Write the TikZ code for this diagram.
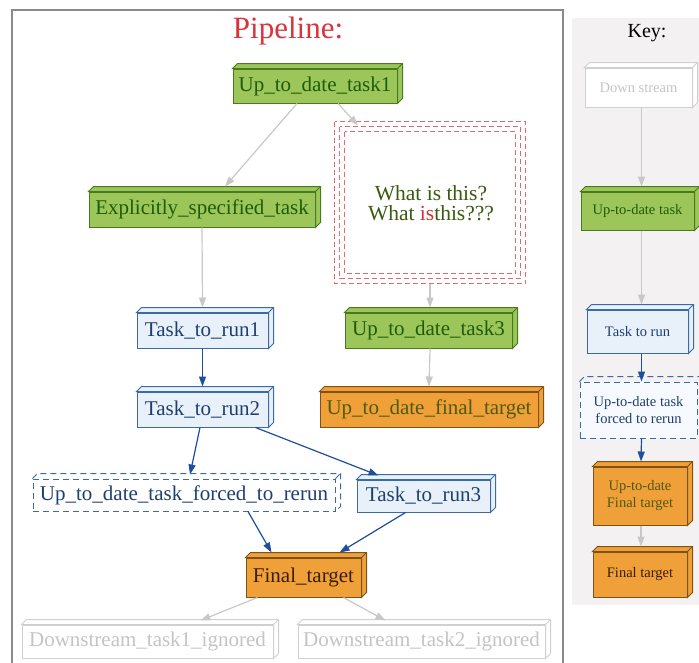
\documentclass[tikz,border=0pt]{standalone}
\usepackage{fontspec}
\setmainfont{Liberation Serif}
\usetikzlibrary{arrows.meta}
\definecolor{gfill}{HTML}{9CC659}
\definecolor{gdraw}{HTML}{4A7A1E}
\definecolor{gtext}{HTML}{1E5C0A}
\definecolor{bfill}{HTML}{E8F1FA}
\definecolor{bdraw}{HTML}{3B6AA6}
\definecolor{btext}{HTML}{1F3F70}
\definecolor{ofill}{HTML}{EFA038}
\definecolor{odraw}{HTML}{7F5218}
\definecolor{otext}{HTML}{4F5A10}
\definecolor{ftext}{HTML}{3A1E05}
\definecolor{lgray}{HTML}{D0D0D0}
\definecolor{lgtext}{HTML}{C4C4C4}
\definecolor{egray}{HTML}{C8C8C8}
\definecolor{eblue}{HTML}{1E4F9C}
\definecolor{keybg}{HTML}{F3F1F1}
\definecolor{framec}{HTML}{8A8A8A}
\definecolor{titlered}{HTML}{D8343C}
\definecolor{whatred}{HTML}{E06A70}
\definecolor{whattext}{HTML}{3A5A10}
\definecolor{isred}{HTML}{D03030}
% side and top faces of a 3D box, drawn up and to the right of the front face
\newcommand\tdfaces[2]{%
  \filldraw[#2] (#1.north west) -- ++(5,-5) -- ([shift={(5pt,5pt)}]#1.north east)
    -- ([shift={(5pt,5pt)}]#1.south east) -- (#1.south east) -- (#1.north east) -- cycle;
  \draw[#2] (#1.north east) -- ++(5,-5);
}
\tikzset{
  box/.style={rectangle, inner sep=0pt, line width=1pt, align=center,
    font=\fontsize{21}{24}\selectfont},
  keybox/.style={box, font=\fontsize{14.5}{17}\selectfont},
  gbox/.style={fill=gfill, draw=gdraw, text=gtext},
  bbox/.style={fill=bfill, draw=bdraw, text=btext},
  obox/.style={fill=ofill, draw=odraw, text=otext},
  fbox/.style={fill=ofill, draw=odraw, text=ftext},
  dbox/.style={fill=white, draw=lgray, text=lgtext},
  rbox/.style={draw=bdraw, text=btext, dashed, dash pattern=on 6pt off 4pt},
  gface/.style={fill=gfill, draw=gdraw, line width=1pt},
  bface/.style={fill=bfill, draw=bdraw, line width=1pt},
  oface/.style={fill=ofill, draw=odraw, line width=1pt},
  dface/.style={fill=white, draw=lgray, line width=1pt},
  rface/.style={draw=bdraw, line width=1pt, dash pattern=on 6pt off 4pt},
  gedge/.style={draw=egray, line width=1.2pt, -{Triangle[length=10pt,width=7pt]}},
  bedge/.style={draw=eblue, line width=1.2pt, -{Triangle[length=10pt,width=7pt]}},
  whatline/.style={draw=whatred, line width=1.1pt, dash pattern=on 5pt off 3pt},
}
\begin{document}
\begin{tikzpicture}[x=1pt, y=-1pt]
\useasboundingbox (0,0) rectangle (699,662);
\clip (0,0) rectangle (699,662);
\fill[white] (0,0) rectangle (699,662);

% outer frame of the pipeline and the key panel
\draw[framec, line width=2pt] (12,680) -- (12,10) -- (563,10) -- (563,680);
\fill[keybg] (572,18) rectangle (710,605);

% titles
\node[text=titlered, font=\fontsize{31}{34}\selectfont] (title) at (288,31) {Pipeline:};
\node[font=\fontsize{20}{23}\selectfont] (keytitle) at (647,33) {Key:};

% pipeline tasks
\node[box, gbox, minimum width=164pt, minimum height=34pt] (u1) at (315,86) {Up\_to\_date\_task1};
\node[box, gbox, minimum width=226pt, minimum height=35pt] (exp) at (202,209.5) {Explicitly\_specified\_task};
\node[box, minimum width=190pt, minimum height=161pt] (what) at (430,202.5) {};
\node[text=whattext, font=\fontsize{21.5}{20}\selectfont, align=center] (whattxt) at (431,203)
  {What is this?\\What {\color{isred}is}this???};
\node[box, bbox, minimum width=131pt, minimum height=35pt] (tr1) at (202.5,330.5) {Task\_to\_run1};
\node[box, bbox, minimum width=131pt, minimum height=35pt] (tr2) at (202.5,409.5) {Task\_to\_run2};
\node[box, gbox, minimum width=167pt, minimum height=35pt] (u3) at (428.5,330.5) {Up\_to\_date\_task3};
\node[box, obox, minimum width=218pt, minimum height=35pt] (uft) at (429,409.5) {Up\_to\_date\_final\_target};
\node[box, rbox, minimum width=302pt, minimum height=32pt] (forced) at (184,495) {Up\_to\_date\_task\_forced\_to\_rerun};
\node[box, bbox, minimum width=133pt, minimum height=32pt] (tr3) at (423.5,496) {Task\_to\_run3};
\node[box, fbox, minimum width=115pt, minimum height=39pt] (ft) at (303.5,577.5) {Final\_target};
\node[box, dbox, minimum width=251pt, minimum height=33pt] (ds1) at (147.5,641.5) {Downstream\_task1\_ignored};
\node[box, dbox, minimum width=247pt, minimum height=33pt] (ds2) at (421.5,641.5) {Downstream\_task2\_ignored};

% 3D faces
\tdfaces{u1}{gface}
\tdfaces{exp}{gface}
\tdfaces{tr1}{bface}
\tdfaces{tr2}{bface}
\tdfaces{u3}{gface}
\tdfaces{uft}{oface}
\tdfaces{tr3}{bface}
\tdfaces{ft}{oface}
\tdfaces{ds1}{dface}
\tdfaces{ds2}{dface}
\draw[rface] (forced.north west) -- ++(5,-5) -- ([shift={(5pt,5pt)}]forced.north east)
  -- ([shift={(5pt,5pt)}]forced.south east) -- (forced.south east);
\draw[rface] (forced.north east) -- ++(5,-5);

% triple dashed border of the note
\foreach \d in {0,5,10}
  \draw[whatline] ([shift={(\d pt,-\d pt)}]what.north west) rectangle ([shift={(-\d pt,\d pt)}]what.south east);

% pipeline connectors
\draw[gedge] ([xshift=-18pt]u1.south) -- ([xshift=23pt,yshift=5pt]exp.north);
\draw[gedge] ([xshift=23pt]u1.south) -- ([xshift=-72pt,yshift=-4pt]what.north);
\draw[gedge] (exp.south) -- ([yshift=5pt]tr1.north);
\draw[gedge] (what.south) -- ([xshift=1.5pt,yshift=5pt]u3.north);
\draw[gedge] ([xshift=1.5pt]u3.south) -- ([yshift=5pt]uft.north);
\draw[bedge] (tr1.south) -- ([yshift=5pt]tr2.north);
\draw[bedge] ([xshift=-2.5pt]tr2.south) -- ([xshift=6pt,yshift=4pt]forced.north);
\draw[bedge] ([xshift=53pt]tr2.south) -- ([xshift=-45pt,yshift=4pt]tr3.north);
\draw[bedge] ([xshift=64pt]forced.south) -- ([xshift=-32pt,yshift=5pt]ft.north);
\draw[bedge] ([xshift=-18pt]tr3.south) -- ([xshift=36pt,yshift=5pt]ft.north);
\draw[gedge] ([xshift=-46pt]ft.south) -- ([xshift=53pt,yshift=4pt]ds1.north);
\draw[gedge] ([xshift=40pt]ft.south) -- ([xshift=-36pt,yshift=4pt]ds2.north);

% key
\node[keybox, dbox, minimum width=107pt, minimum height=39pt] (kds) at (638.5,87.5) {Down stream};
\node[keybox, gbox, minimum width=113pt, minimum height=38pt] (kup) at (637.5,211) {Up-to-date task};
\node[keybox, bbox, minimum width=101pt, minimum height=43pt] (ktr) at (637.5,331.5) {Task to run};
\node[keybox, rbox, fill=bfill!40, minimum width=117pt, minimum height=56pt] (kforced) at (638.5,410) {Up-to-date task\\forced to rerun};
\node[keybox, obox, minimum width=94pt, minimum height=58pt] (kuft) at (640,496) {Up-to-date\\Final target};
\node[keybox, fbox, minimum width=94pt, minimum height=45pt] (kft) at (640,574.5) {Final target};
\tdfaces{kds}{dface}
\tdfaces{kup}{gface}
\tdfaces{ktr}{bface}
\tdfaces{kuft}{oface}
\tdfaces{kft}{oface}
\draw[rface] (kforced.north west) -- ++(5,-5) -- ([shift={(5pt,5pt)}]kforced.north east)
  -- ([shift={(5pt,5pt)}]kforced.south east) -- (kforced.south east);

\draw[gedge] ([xshift=3pt]kds.south) -- ([xshift=4pt,yshift=5pt]kup.north);
\draw[gedge] ([xshift=4pt]kup.south) -- ([xshift=4pt,yshift=5pt]ktr.north);
\draw[bedge] ([xshift=4pt]ktr.south) -- ([xshift=3pt]kforced.north);
\draw[bedge] ([xshift=3pt]kforced.south) -- ([xshift=1pt,yshift=5pt]kuft.north);
\draw[gedge] ([xshift=1pt]kuft.south) -- ([xshift=1pt,yshift=5pt]kft.north);
\end{tikzpicture}
\end{document}
